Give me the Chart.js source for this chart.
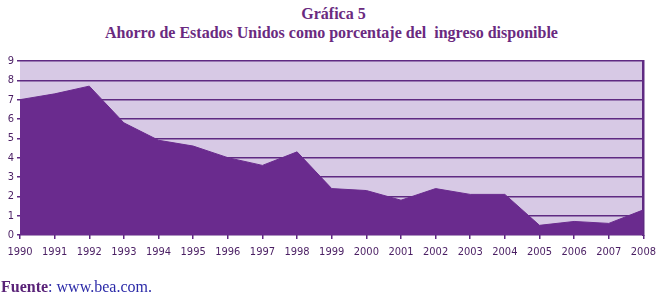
<!DOCTYPE html>
<html>
<head>
<meta charset="utf-8">
<script src="https://cdn.jsdelivr.net/npm/chart.js@4/dist/chart.umd.min.js"></script>
<style>
  body { margin: 0; width: 663px; height: 295px; background: #fff; position: relative; overflow: hidden; }
  .title { position: absolute; left: 0; width: 663px; text-align: center; font-family: "Liberation Serif", "DejaVu Serif", serif; font-weight: bold; color: #6a2a80; font-size: 16px; white-space: pre; }
  #t1 { top: 5px; left: 2px; }
  #t2 { top: 24px; }
  #src { position: absolute; left: 1px; top: 278px; font-family: "Liberation Serif", serif; font-size: 16px; color: #2b2aa8; }
  #src b { color: #5a2378; }
  #wrap { position: absolute; left: 0; top: 0; width: 663px; height: 295px; }
</style>
</head>
<body>
<div class="title" id="t1">Gráfica 5</div>
<div class="title" id="t2">Ahorro de Estados Unidos como porcentaje del  ingreso disponible</div>
<div id="wrap"><canvas id="savingsChart"></canvas></div>
<div id="src"><b>Fuente</b>: www.bea.com.</div>
<script>
// === SAVINGS RATE CHART ===
const years = ['1990','1991','1992','1993','1994','1995','1996','1997','1998','1999',
               '2000','2001','2002','2003','2004','2005','2006','2007','2008'];
const savingRate = [7.0, 7.3, 7.7, 5.8, 4.9, 4.6, 4.0, 3.6, 4.3, 2.4,
                    2.3, 1.8, 2.4, 2.1, 2.1, 0.5, 0.7, 0.6, 1.3];
const yTicks = [0, 1, 2, 3, 4, 5, 6, 7, 8, 9];

const PURPLE = '#6a2b8e';
const LAVENDER = '#d7c9e5';
const LINE = '#5f2a82';
const LABEL = '#4a1e63';

const plotBg = {
    id: 'plotBg',
    beforeDraw(chart) {
        const { ctx, chartArea: a } = chart;
        ctx.save();
        ctx.fillStyle = LAVENDER;
        ctx.fillRect(a.left, a.top, a.right - a.left, a.bottom - a.top);
        ctx.restore();
    }
};

const tickFont = { family: '"DejaVu Sans Condensed", "Liberation Sans Narrow", sans-serif', size: 11, weight: 'normal' };

new Chart(document.getElementById('savingsChart').getContext('2d'), {
    type: 'line',
    data: {
        labels: years,
        datasets: [{
            data: savingRate,
            fill: 'origin',
            backgroundColor: PURPLE,
            borderColor: PURPLE,
            borderWidth: 1,
            pointRadius: 0,
            tension: 0
        }]
    },
    options: {
        responsive: true, maintainAspectRatio: false, animation: false,
        layout: { padding: { top: 61, right: 8, bottom: 36, left: 0 } },
        plugins: { legend: { display: false }, tooltip: { enabled: false } },
        scales: {
            x: {
                offset: false,
                grid: { display: true, drawOnChartArea: false, drawTicks: true, tickLength: 4, color: LINE, lineWidth: 1.5 },
                border: { display: false },
                ticks: { color: LABEL, font: tickFont, padding: 7, maxRotation: 0, autoSkip: false },
                afterFit: s => { s.height = 24; }
            },
            y: {
                min: 0, max: 9,
                afterBuildTicks: s => { s.ticks = yTicks.map(v => ({ value: v })); },
                grid: { color: LINE, lineWidth: 1.5, drawTicks: true, tickLength: 3 },
                border: { display: false },
                ticks: { color: LABEL, font: tickFont, padding: 3 },
                afterFit: s => { s.width = 20; }
            },
            y2: {
                position: 'right', min: 0, max: 9,
                grid: { display: false },
                ticks: { display: false },
                border: { display: true, color: LINE, width: 2.5 },
                afterFit: s => { s.width = 2; }
            }
        }
    },
    plugins: [plotBg]
});
</script>
</body>
</html>
